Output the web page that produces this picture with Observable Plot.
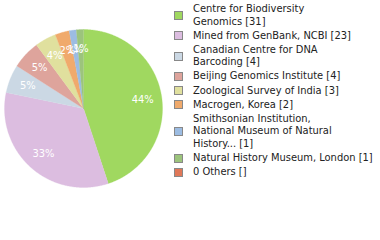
<!DOCTYPE html>
<html><head><meta charset="utf-8">
<script src="https://cdn.jsdelivr.net/npm/d3@7"></script>
<script src="https://cdn.jsdelivr.net/npm/@observablehq/plot@0.6"></script>
<style>
body{margin:0;background:#fff;}
#wrap{position:relative;width:380px;height:240px;overflow:hidden;}
#legend{position:absolute;left:174px;top:3px;font-family:"DejaVu Sans Condensed","DejaVu Sans",sans-serif;font-size:11px;color:#222;}
.row{display:flex;align-items:center;margin-bottom:1.5px;}
.sw{width:7px;height:7px;border:1px solid #888;margin-right:10px;flex:none;}
.lab{line-height:12.6px;white-space:pre;}
</style></head><body>
<div id="wrap"><div id="chart"></div><div id="legend"></div></div>
<script>
const names = ["Centre for Biodiversity\nGenomics", "Mined from GenBank, NCBI", "Canadian Centre for DNA\nBarcoding", "Beijing Genomics Institute", "Zoological Survey of India", "Macrogen, Korea", "Smithsonian Institution,\nNational Museum of Natural\nHistory...", "Natural History Museum, London", "0 Others"];
const counts = [31, 23, 4, 4, 3, 2, 1, 1, null];
const colors = ["#a0d860", "#dcbde0", "#cbd8e4", "#dea49c", "#e0e09e", "#f0aa6c", "#9cbce2", "#9cc47c", "#e07858"];

const total = d3.sum(counts.filter(c => c != null));
const slices = names.map((n, i) => ({name: n, count: counts[i] ?? 0, i})).filter(d => d.count > 0);
const arcs = d3.pie().sort(null).value(d => d.count)(slices);

const pts = [];
for (const a of arcs) {
  const n = Math.max(2, Math.ceil((a.endAngle - a.startAngle) / 0.01));
  pts.push({i: a.data.i, x: 0, y: 0});
  for (let k = 0; k <= n; k++) {
    const t = a.startAngle + (a.endAngle - a.startAngle) * k / n;
    pts.push({i: a.data.i, x: Math.sin(t), y: Math.cos(t)});
  }
}
const labels = arcs.map(a => {
  const m = (a.startAngle + a.endAngle) / 2;
  return {i: a.data.i, x: 0.76 * Math.sin(m), y: 0.76 * Math.cos(m), text: Math.floor(100 * a.data.count / total) + "%"};
});

const plot = Plot.plot({
  width: 380, height: 240, margin: 0,
  x: {domain: [-1, 1], range: [4, 162], axis: null},
  y: {domain: [-1, 1], range: [187, 29], axis: null},
  color: {type: "ordinal", domain: d3.range(names.length), range: colors},
  marks: [
    Plot.line(pts, {x: "x", y: "y", z: "i", fill: "i", stroke: "i", strokeWidth: 0.3, curve: "linear-closed"}),
    Plot.text(labels, {x: "x", y: "y", text: "text", fill: "white", fontSize: 11, fontFamily: "DejaVu Sans Condensed, DejaVu Sans, sans-serif", style: "letter-spacing:1px"})
  ]
});
document.getElementById("chart").appendChild(plot);
const cs = plot.scale("color");
const leg = document.getElementById("legend");
names.forEach((n, i) => {
  const row = document.createElement("div"); row.className = "row";
  const sw = document.createElement("div"); sw.className = "sw"; sw.style.background = cs.apply(i);
  const lab = document.createElement("div"); lab.className = "lab";
  lab.textContent = n + " [" + (counts[i] ?? "") + "]";
  row.appendChild(sw); row.appendChild(lab); leg.appendChild(row);
});
</script></body></html>
